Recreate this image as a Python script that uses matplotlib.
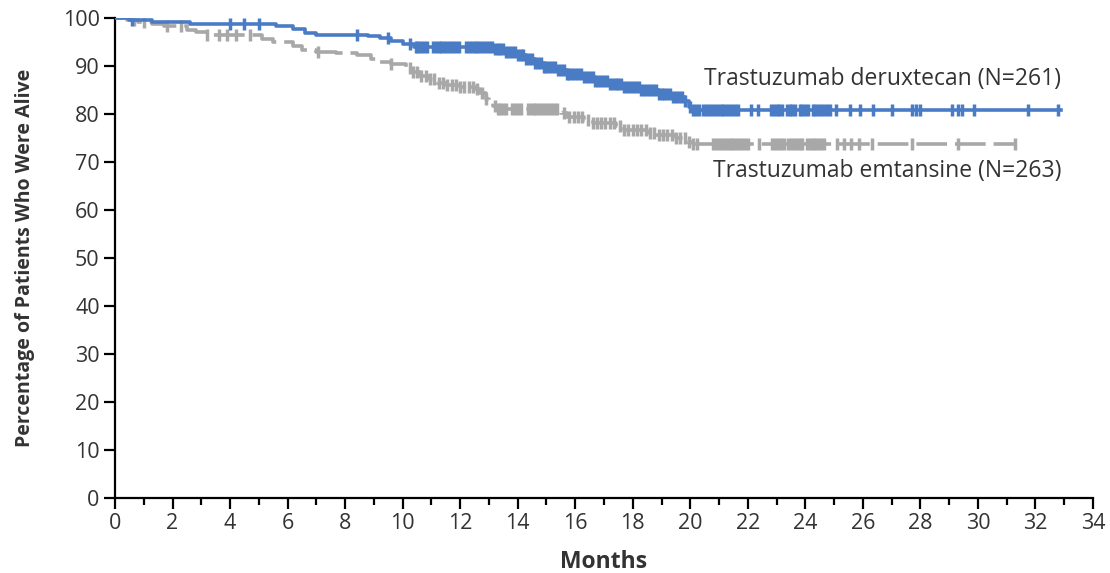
import matplotlib
matplotlib.use('Agg')
import matplotlib.pyplot as plt
import numpy as np

plt.rcParams['font.family'] = ['Open Sans', 'DejaVu Sans']

# Kaplan-Meier steps (months, % alive after the step)
dxd_times = [0, 0.5, 1.3, 2.6, 5.6, 6.2, 6.6, 7.0, 8.8, 9.2, 9.6, 10.0, 10.4,
             13.2, 13.6, 14.0, 14.3, 14.6, 14.9, 15.4, 15.7, 16.3, 16.7, 17.2,
             17.7, 18.3, 18.9, 19.4, 19.8, 19.95, 20.1, 32.9]
dxd_surv = [100, 99.6, 99.2, 98.8, 98.4, 97.8, 96.9, 96.5, 96.2, 95.8, 95.2,
            94.6, 94.0, 93.5, 93.0, 92.3, 91.5, 90.6, 89.8, 89.2, 88.4, 87.8,
            86.8, 86.3, 85.6, 85.0, 84.2, 83.6, 82.8, 81.5, 80.8, 80.8]
dxd_censor = [0.6, 4.0, 4.5, 5.0, 8.4, 9.5, 10.25,
              10.45, 10.55, 10.65, 10.75, 10.85, 11.05, 11.15, 11.25, 11.35,
              11.45, 11.55, 11.65, 11.75, 11.85, 11.95, 12.2, 12.3, 12.4, 12.5,
              12.6, 12.7, 12.8, 12.9, 13.0, 13.1, 13.2, 13.3, 13.4, 13.5, 13.6,
              13.7, 13.8, 13.9, 14.0, 14.1, 14.2, 14.3, 14.4, 14.5, 14.6, 14.7,
              14.8, 14.9, 15.0, 15.1, 15.2, 15.3, 15.4, 15.5, 15.6, 15.7, 15.8,
              15.9, 16.0, 16.1, 16.2, 16.3, 16.4, 16.5, 16.6, 16.7, 16.8, 16.9,
              17.0, 17.1, 17.2, 17.3, 17.4, 17.5, 17.6, 17.7, 17.8, 17.9, 18.0,
              18.1, 18.2, 18.3, 18.4, 18.5, 18.6, 18.7, 18.8, 18.9, 19.0, 19.1,
              19.2, 19.3, 19.4, 19.5, 19.6, 19.7, 19.8,
              20.0, 20.1, 20.2, 20.3, 20.45, 20.55, 20.65, 20.75, 20.85, 20.95,
              21.05, 21.15, 21.25, 21.35, 21.45, 21.55, 21.65, 22.1, 22.35,
              22.8, 22.9, 23.0, 23.1, 23.2, 23.35, 23.45, 23.55, 23.65, 23.8,
              23.9, 24.0, 24.1, 24.25, 24.35, 24.45, 24.55, 24.65, 24.75, 24.85,
              25.05, 25.55, 25.9, 26.35, 27.0, 27.7, 27.85, 28.0, 29.1, 29.3,
              29.45, 29.85, 31.75, 32.8]

tdm1_times = [0, 0.4, 0.8, 1.3, 1.7, 2.5, 2.8, 3.2, 5.1, 5.5, 6.2, 6.5, 7.0,
              7.7, 8.4, 8.9, 9.2, 9.6, 10.1, 10.3, 10.6, 10.9, 11.2, 11.5, 12.0,
              12.5, 12.7, 12.9, 13.0, 13.15, 13.3, 15.5, 15.7, 16.3, 16.6, 17.4,
              17.7, 18.5, 18.8, 19.5, 19.9, 20.1, 31.3]
tdm1_surv = [100, 99.6, 99.2, 98.8, 98.4, 97.6, 97.0, 96.4, 95.6, 95.0, 94.2,
             93.4, 93.0, 92.7, 92.3, 91.5, 90.8, 90.4, 89.6, 88.8, 88.0, 87.2,
             86.4, 86.0, 85.6, 85.2, 84.4, 83.2, 82.4, 81.6, 81.0, 80.2, 79.4,
             78.8, 78.2, 77.4, 76.6, 76.0, 75.6, 75.0, 74.2, 73.8, 73.8]
tdm1_censor = [0.65, 1.0, 1.8, 2.3, 3.2, 3.6, 3.9, 4.2, 4.7, 7.05, 9.6, 10.25,
               10.35, 10.5, 10.65, 10.8, 10.95, 11.1, 11.25, 11.4, 11.55, 11.7,
               11.85, 12.0, 12.15, 12.3, 12.45, 12.6, 12.75, 12.9, 13.2, 13.3,
               13.4, 13.5, 13.6, 13.8, 13.9, 14.0, 14.1, 14.35, 14.45, 14.55,
               14.65, 14.75, 14.85, 14.95, 15.05, 15.15, 15.25, 15.35, 15.6,
               15.8, 15.95, 16.1, 16.25, 16.45, 16.6, 16.75, 16.9, 17.05, 17.2,
               17.35, 17.55, 17.7, 17.85, 18.0, 18.15, 18.3, 18.45, 18.6, 18.75,
               18.9, 19.05, 19.2, 19.35, 19.5, 19.65, 19.8,
               19.95, 20.1, 20.25, 20.8, 20.9, 21.0, 21.1, 21.2, 21.3, 21.4,
               21.5, 21.6, 21.7, 21.8, 21.9, 22.0, 22.4, 22.85, 22.95, 23.05,
               23.15, 23.25, 23.4, 23.5, 23.6, 23.7, 23.8, 23.9, 24.05, 24.15,
               24.25, 24.35, 24.45, 24.55, 24.65, 25.1, 25.35, 25.6, 25.85,
               26.3, 27.7, 29.3, 31.3]

blue = '#4a7cc6'
gray = '#a8a8a8'
txt = '#333333'


def censor_y(times, surv, cens):
    idx = np.searchsorted(times, cens, side='right') - 1
    return np.array(surv)[idx]


fig = plt.figure(figsize=(11.1, 5.73), dpi=100)
ax = fig.add_axes([0.1036, 0.1309, 0.8811, 0.8377])

ax.step(tdm1_times, tdm1_surv, where='post', color=gray, lw=2.6,
        linestyle=(0, (8.5, 2.2)), zorder=2)
ax.plot(tdm1_censor, censor_y(tdm1_times, tdm1_surv, tdm1_censor), ls='none',
        marker='|', ms=8, mew=2.5, color=gray, zorder=2)

ax.step(dxd_times, dxd_surv, where='post', color=blue, lw=2.6, zorder=3)
ax.plot(dxd_censor, censor_y(dxd_times, dxd_surv, dxd_censor), ls='none',
        marker='|', ms=8, mew=2.5, color=blue, zorder=3)

ax.text(32.9, 87.3, 'Trastuzumab deruxtecan (N=261)', ha='right', va='center',
        fontsize=16.5, color=txt)
ax.text(32.9, 68.1, 'Trastuzumab emtansine (N=263)', ha='right', va='center',
        fontsize=16.5, color=txt)

ax.set_xlim(0, 34)
ax.set_ylim(0, 100)
ax.set_xticks(np.arange(0, 35, 2))
ax.set_xticks(np.arange(1, 34, 2), minor=True)
ax.set_yticks(np.arange(0, 101, 10))
ax.spines['top'].set_visible(False)
ax.spines['right'].set_visible(False)
for s in ['left', 'bottom']:
    ax.spines[s].set_linewidth(1.6)
ax.tick_params(axis='both', which='major', length=8, width=1.6,
               labelsize=15.5, labelcolor=txt, pad=3)
ax.tick_params(axis='x', which='minor', length=5, width=1.6)
ax.set_xlabel('Months', fontsize=16.5, fontweight='bold', color=txt, labelpad=11)
ax.set_ylabel('Percentage of Patients Who Were Alive', fontsize=14,
              fontweight='bold', color=txt, labelpad=20)
for sp in ax.spines.values():
    sp.set_clip_on(False)

fig.savefig('out.png', dpi=100)
